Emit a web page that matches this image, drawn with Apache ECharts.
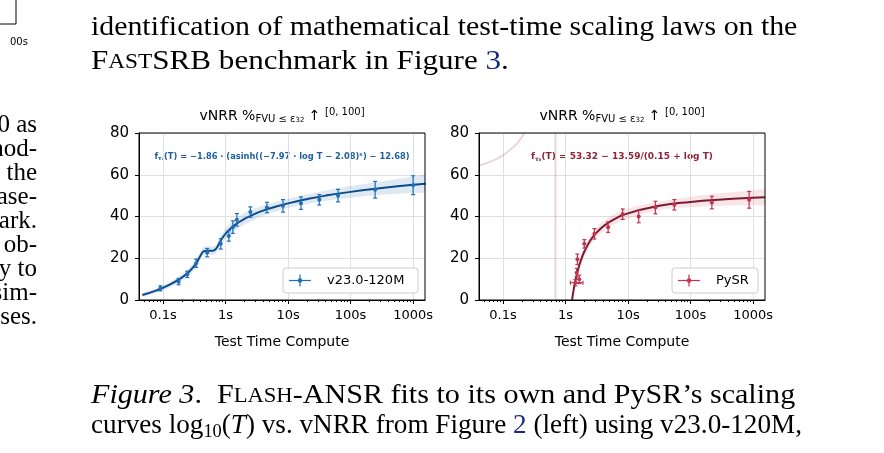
<!DOCTYPE html>
<html><head><meta charset="utf-8">
<script src="https://cdn.jsdelivr.net/npm/echarts@6/dist/echarts.min.js"></script>
<style>html,body{margin:0;padding:0;background:#fff}#c{width:884px;height:453px}</style>
</head><body><div id="c"></div>
<script>
// ---- data ----
const tickLabels = ['0.1s','1s','10s','100s','1000s'];
const tickT = [0.1,1,10,100,1000];
const yTicks = [0,20,40,60,80];
// Flash-ANSR v23.0-120M
const flashT = [0.091,0.178,0.245,0.34,0.51,0.84,1.13,1.31,1.52,2.5,4.6,8.3,16.1,31.6,63,247,1000];
const flashY = [5.6,8.8,12.3,17.6,22.7,26.9,30.7,34.9,38.4,42.1,44.3,45.1,46.4,48.0,50.0,52.8,55.0];
const flashErr = [1.2,1.5,1.5,2,2,2.5,2.5,3,3,2.5,2.5,3,3,2.5,3,4,4.5];
const flashFitLogT = [-1.33,-1.1,-0.9,-0.7,-0.6,-0.5,-0.45,-0.4,-0.35,-0.3,-0.25,-0.2,-0.15,-0.1,-0.05,0,0.1,0.2,0.3,0.4,0.6,0.8,1.0,1.3,1.6,2.0,2.5,3.0,3.2];
const flashFit = [2.4,4.6,7.2,10.7,13.1,16.3,18.5,21.2,23.3,23.6,23.6,23.6,24.6,27.2,29.7,31.7,34.7,37.0,38.8,40.3,42.8,44.7,46.3,48.3,50.0,51.8,53.6,55.2,55.7];
const flashBand = [0.8,1,1.3,1.6,1.8,2,2,2,2,2,2,2,2,2.2,2.4,2.5,2.7,2.8,2.8,2.8,2.5,2.3,2.2,2.3,2.5,2.8,3.2,3.8,4];
// PySR
const pysrT = [1.44,1.51,1.55,1.66,2.0,2.9,4.8,8.2,14.8,27.4,55,219,864];
const pysrY = [8.3,13.1,19.5,9.9,26.9,31.7,34.9,41.1,40.0,44.3,45.6,46.7,48.0];
const pysrErr = [1.5,2,2.5,2,2,2.5,2.5,2.5,3,3,2.5,3,4];
const pysrXErrLo = [1.2,1.51,1.55,1.66,2.0,2.9,4.8,8.2,14.8,27.4,55,219,864];
const pysrXErrHi = [1.9,1.51,1.55,1.66,2.0,2.9,4.8,8.2,14.8,27.4,55,219,864];
const pysrFitLogT = [0.105,0.12,0.15,0.2,0.25,0.3,0.4,0.5,0.7,1.0,1.5,2.0,2.5,3.0,3.19];
const pysrFit = [0,3.0,8.0,14.5,19.3,23.1,28.6,32.4,37.3,41.5,45.1,47.0,48.2,49.0,49.2];
const pysrBand = [0,1.5,2.5,2.5,2.5,2.5,2.5,2.5,2.5,2.5,2,2.5,3,3.5,3.5];
const pysrBranchLogT = [-1.383,-1.2,-1.0,-0.8,-0.7,-0.659];
const pysrBranch = [64.4,66.3,69.3,74.2,78.0,80.0];
const pysrAsymLogT = -0.16;

const L = Math.log10;
const xMin = -1.383, xMax = 3.19;
const majors = tickT.map(L);
const minors = [];
for (let d=-2; d<=3; d++) for (let m=2; m<=9; m++){const v=d+L(m); if(v>=xMin&&v<=xMax) minors.push(v);}

const gridTop=133, gridH=167, gridW=286;
const grids=[{left:139,top:gridTop,width:gridW,height:gridH},{left:479,top:gridTop,width:gridW,height:gridH}];
const font='DejaVu Sans';
function xAxes(g){
  return [{type:'value',gridIndex:g,min:xMin,max:xMax,
    axisLine:{onZero:false,lineStyle:{color:'#000',width:1}},
    axisTick:{customValues:majors,length:4,inside:false,lineStyle:{color:'#000'}},
    axisLabel:{customValues:majors,formatter:(v)=>tickLabels[majors.findIndex(m=>Math.abs(m-v)<1e-6)]||'',color:'#000',fontFamily:font,fontSize:13,margin:9},
    splitLine:{show:true,lineStyle:{color:'#e0e0e0',width:1}},
    name:'Test Time Compute',nameLocation:'middle',nameGap:35,nameTextStyle:{color:'#000',fontFamily:font,fontSize:14}},
   {type:'value',gridIndex:g,min:xMin,max:xMax,position:'bottom',
    axisLine:{show:false,onZero:false},axisTick:{customValues:minors,length:2,lineStyle:{color:'#000'}},
    axisLabel:{show:false},splitLine:{show:false}}];
}
function yAxis(g){
  return {type:'value',gridIndex:g,min:0,max:80,interval:20,
    axisLine:{show:true,onZero:false,lineStyle:{color:'#000'}},axisTick:{show:true,length:4,lineStyle:{color:'#000'}},
    axisLabel:{color:'#000',fontFamily:font,fontSize:15,margin:10},
    splitLine:{show:true,lineStyle:{color:'#e0e0e0'}}};
}
function errSeries(xi,yi,T,Y,E,XL,XH,color){
  const data=T.map((t,i)=>[L(t),Y[i],E[i],XL?L(XL[i]):L(t),XH?L(XH[i]):L(t)]);
  return {type:'custom',xAxisIndex:xi,yAxisIndex:yi,data:data,z:5,clip:false,
    renderItem:(p,api)=>{
      const x=api.value(0),y=api.value(1),e=api.value(2),xl=api.value(3),xh=api.value(4);
      const c=api.coord([x,y]),t=api.coord([x,y+e]),b=api.coord([x,y-e]),l=api.coord([xl,y]),r=api.coord([xh,y]);
      const st={stroke:color,lineWidth:1.2};
      const ch=[
        {type:'line',shape:{x1:t[0],y1:t[1],x2:b[0],y2:b[1]},style:st},
        {type:'line',shape:{x1:t[0]-2,y1:t[1],x2:t[0]+2,y2:t[1]},style:st},
        {type:'line',shape:{x1:b[0]-2,y1:b[1],x2:b[0]+2,y2:b[1]},style:st},
        {type:'circle',shape:{cx:c[0],cy:c[1],r:2},style:{fill:color}}];
      if(r[0]-l[0]>1){ch.push({type:'line',shape:{x1:l[0],y1:l[1],x2:r[0],y2:r[1]},style:st});
        ch.push({type:'line',shape:{x1:l[0],y1:l[1]-2,x2:l[0],y2:l[1]+2},style:st});
        ch.push({type:'line',shape:{x1:r[0],y1:r[1]-2,x2:r[0],y2:r[1]+2},style:st});}
      return {type:'group',children:ch};
    }};
}
function bandSeries(xi,yi,X,F,B,color){
  const data=X.map((x,i)=>[x,F[i]-B[i],F[i]+B[i]]);
  return {type:'custom',xAxisIndex:xi,yAxisIndex:yi,data:[0],z:1,
    renderItem:(p,api)=>{
      const up=data.map(d=>api.coord([d[0],d[2]]));
      const lo=data.map(d=>api.coord([d[0],d[1]])).reverse();
      return {type:'polygon',shape:{points:up.concat(lo),smooth:0.3},style:{fill:color},
        clipPath:{type:'rect',shape:{x:p.coordSys.x,y:p.coordSys.y,width:p.coordSys.width,height:p.coordSys.height}}};
    }};
}
const blueLine='#0b4a8b', bluePt='#1f6eb4', redLine='#7b1b30', redPt='#c23350';
const option={
  animation:false,
  grid:grids,
  xAxis:[...xAxes(0),...xAxes(1)],
  yAxis:[yAxis(0),yAxis(1)],
  series:[
    bandSeries(0,0,flashFitLogT,flashFit,flashBand,'rgba(31,110,180,0.15)'),
    {type:'line',xAxisIndex:0,yAxisIndex:0,data:flashFitLogT.map((x,i)=>[x,flashFit[i]]),smooth:true,symbol:'none',lineStyle:{color:blueLine,width:2},z:4},
    errSeries(0,0,flashT,flashY,flashErr,null,null,bluePt),
    bandSeries(2,1,pysrFitLogT,pysrFit,pysrBand,'rgba(194,51,80,0.13)'),
    {type:'line',xAxisIndex:2,yAxisIndex:1,data:pysrBranchLogT.map((x,i)=>[x,pysrBranch[i]]),smooth:true,symbol:'none',lineStyle:{color:'rgba(123,27,48,0.18)',width:2},z:3},
    {type:'line',xAxisIndex:2,yAxisIndex:1,data:[[pysrAsymLogT,0],[pysrAsymLogT,80]],symbol:'none',lineStyle:{color:'rgba(123,27,48,0.18)',width:2},z:3},
    {type:'line',xAxisIndex:2,yAxisIndex:1,data:pysrFitLogT.map((x,i)=>[x,pysrFit[i]]),smooth:true,symbol:'none',lineStyle:{color:redLine,width:2},z:4},
    errSeries(2,1,pysrT,pysrY,pysrErr,pysrXErrLo,pysrXErrHi,redPt)
  ],
  graphic:[]
};
const serif='Liberation Serif';
const G=option.graphic;
const FS=28;
function rt(x,y,text,rich,sx,align){G.push({type:'text',x:x,y:y,scaleX:sx||1,style:{text:text,align:align||'left',verticalAlign:'middle',rich:rich}});}
const R={a:{fontFamily:serif,fontSize:FS,fill:'#000'},b:{fontFamily:serif,fontSize:Math.round(FS*0.76),fill:'#000'},
  i:{fontFamily:serif,fontSize:FS,fontStyle:'italic',fill:'#000'},l:{fontFamily:serif,fontSize:FS,fill:'#1a2a80'},
  s:{fontFamily:serif,fontSize:Math.round(FS*0.68),fill:'#000',padding:[12,0,0,0]}};
// plot frames
grids.forEach(g=>{G.push({type:'rect',shape:{x:g.left,y:g.top,width:g.width,height:g.height},style:{fill:'none',stroke:'#000',lineWidth:1},z:10});});
// titles
[282,622].forEach(cx=>{G.push({type:'text',x:cx,y:116,style:{text:'{a|vNRR %}{s|FVU ≤ ε}{ss|32}{a| ↑ }{u|[0, 100]}',align:'center',verticalAlign:'middle',
  rich:{a:{fontFamily:font,fontSize:14,fill:'#000'},s:{fontFamily:font,fontSize:10,fill:'#000',padding:[6,0,0,0]},ss:{fontFamily:font,fontSize:7,fill:'#000',padding:[9,0,0,0]},u:{fontFamily:font,fontSize:10,fill:'#000',padding:[0,0,8,0]}}}});});
// formulas
G.push({type:'text',x:282,y:157,style:{text:'{a|f}{s|τ₀}{a|(T) = −1.86 · (asinh((−7.97 · log T − 2.08)⁵) − 12.68)}',align:'center',verticalAlign:'middle',
  rich:{a:{fontFamily:font,fontSize:8.3,fontWeight:'bold',fill:'#1d5e9e'},s:{fontFamily:font,fontSize:5.5,fontWeight:'bold',fill:'#1d5e9e',padding:[4,0,0,0]}}}});
G.push({type:'text',x:622,y:157,style:{text:'{a|f}{s|τ₀}{a|(T) = 53.32 − 13.59/(0.15 + log T)}',align:'center',verticalAlign:'middle',
  rich:{a:{fontFamily:font,fontSize:9,fontWeight:'bold',fill:'#8e2438'},s:{fontFamily:font,fontSize:6,fontWeight:'bold',fill:'#8e2438',padding:[4,0,0,0]}}}});
// legends
function legend(x,w,label,color){
  G.push({type:'rect',shape:{x:x,y:268,width:w,height:25,r:3},style:{fill:'rgba(255,255,255,0.85)',stroke:'#ccc',lineWidth:1},z:10});
  const cx=x+17,cy=280.5;
  G.push({type:'line',shape:{x1:cx-11,y1:cy,x2:cx+11,y2:cy},style:{stroke:color,lineWidth:1.2},z:11});
  G.push({type:'line',shape:{x1:cx,y1:cy-6,x2:cx,y2:cy+6},style:{stroke:color,lineWidth:1.2},z:11});
  G.push({type:'circle',shape:{cx:cx,cy:cy,r:2.2},style:{fill:color},z:11});
  G.push({type:'text',x:x+44,y:cy,style:{text:label,fill:'#000',font:'13px "'+font+'"',verticalAlign:'middle'},z:11});
}
legend(283,135,'v23.0-120M',bluePt);
legend(672,86,'PySR',redPt);
// paper text
rt(91,28,'{a|identification of mathematical test-time scaling laws on the}',R,1.065);
rt(91,62,'{a|F}{b|AST}{a|SRB benchmark in Figure }{l|3}{a|.}',R,1.11);
rt(91,396,'{i|Figure 3}{a|.  F}{b|LASH}{a|-ANSR fits to its own and PySR’s scaling}',R,1.075);
rt(91,426,'{a|curves log}{s|10}{a|(}{i|T}{a|) vs. vNRR from Figure }{l|2}{a| (left) using v23.0-120M,}',R,0.97);
const leftCol=['0 as','nod-','the','ase-','ark.','ob-','y to','sim-','ases.'];
leftCol.forEach((t,i)=>rt(37,125+i*24.1,'{a|'+t+'}',{a:{fontFamily:serif,fontSize:25,fill:'#000'}},1,'right'));
G.push({type:'text',x:10,y:42,style:{text:'00s',fill:'#000',font:'10px "'+font+'"',verticalAlign:'middle'}});
G.push({type:'polyline',shape:{points:[[-1,24],[16,24],[16,0]]},style:{stroke:'#000',lineWidth:1,fill:'none'}});
echarts.init(document.getElementById('c')).setOption(option);
</script></body></html>
